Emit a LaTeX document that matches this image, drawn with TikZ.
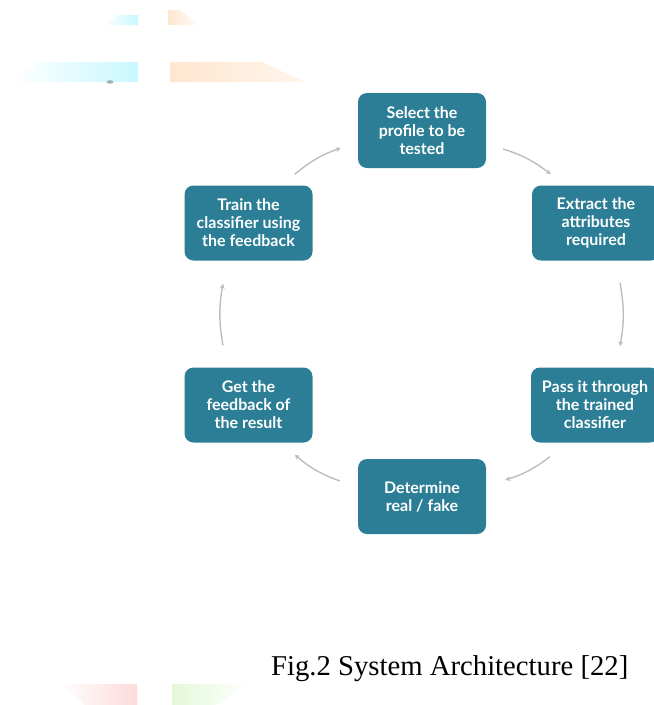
\documentclass[tikz,border=0pt]{standalone}
\usepackage{fontspec}
\setmainfont{Liberation Serif}
\newfontfamily\boxfont{Lato}
\usetikzlibrary{calc,arrows.meta}
\definecolor{teal1}{HTML}{2B7E95}
\definecolor{arrgray}{HTML}{BDBDBD}
\definecolor{wcyan}{HTML}{C8F8FF}
\definecolor{worange}{HTML}{FFE6CF}
\definecolor{wpink}{HTML}{FDDADA}
\definecolor{wgreen}{HTML}{E4F8D8}
\tikzset{
  stepbox/.style={draw=none, fill=teal1, rounded corners=9pt, minimum width=128pt,
    minimum height=75pt, inner sep=1pt, text=white, align=center,
    font=\boxfont\bfseries\fontsize{16}{18}\selectfont},
  cyc/.style={draw=arrgray, line width=1.4pt, -{Stealth[length=5pt,width=5pt]}, bend left=10},
  caption/.style={font=\fontsize{28.7}{32}\selectfont, anchor=base west, inner sep=0pt}
}
\begin{document}
\begin{tikzpicture}[x=1pt,y=-1pt]
\useasboundingbox (0,0) rectangle (654,705);
% faint watermark remnants
\shade[left color=white, right color=wcyan] (103,25) -- (118,15) -- (138,15) -- (138,25) -- cycle;
\shade[left color=worange, right color=white] (168,10) -- (180,10) -- (200,25) -- (168,25) -- cycle;
\shade[left color=white, right color=wcyan] (10,82) -- (40,62) -- (138,62) -- (138,82) -- cycle;
\shade[left color=worange, right color=worange!40] (170,62) -- (262,62) -- (305,82) -- (170,82) -- cycle;
\fill[black!60, opacity=0.5] (110,82) ellipse (3.5 and 1.8);
\shade[left color=white, right color=wpink] (60,684) -- (137,684) -- (137,705) -- (85,705) -- cycle;
\shade[left color=wgreen, right color=white] (172,684) -- (250,684) -- (215,705) -- (172,705) -- cycle;
% nodes
\node[stepbox] (select) at (422,130.5) {Select the\\profile to be\\tested};
\node[stepbox] (extract) at (596,223) {Extract the\\attributes\\required};
\node[stepbox] (pass) at (595,405) {Pass it through\\the trained\\classifier};
\node[stepbox] (determine) at (422,496.5) {Determine\\real / fake};
\node[stepbox] (get) at (248.5,405) {Get the\\feedback of\\the result};
\node[stepbox] (train) at (248.5,223) {Train the\\classifier using\\the feedback};
% connectors
\draw[cyc] ($(train.north east)+(-18,-11)$) to ($(select.west)+(-17,17.5)$);
\draw[cyc] ($(select.east)+(17,18.5)$) to ($(extract.north west)+(19,-11)$);
\draw[cyc] ($(extract.south)+(24,22)$) to ($(pass.north)+(25,-21)$);
\draw[cyc] ($(pass.south west)+(19,14)$) to ($(determine.east)+(19,-16.5)$);
\draw[cyc] ($(determine.west)+(-18,-15.5)$) to ($(get.south east)+(-18,12)$);
\draw[cyc] ($(get.north)+(-25.5,-22)$) to ($(train.south)+(-25.5,23)$);
% caption
\node[caption] (cap) at (271,675) {Fig.2 System Architecture [22]};
\end{tikzpicture}
\end{document}
